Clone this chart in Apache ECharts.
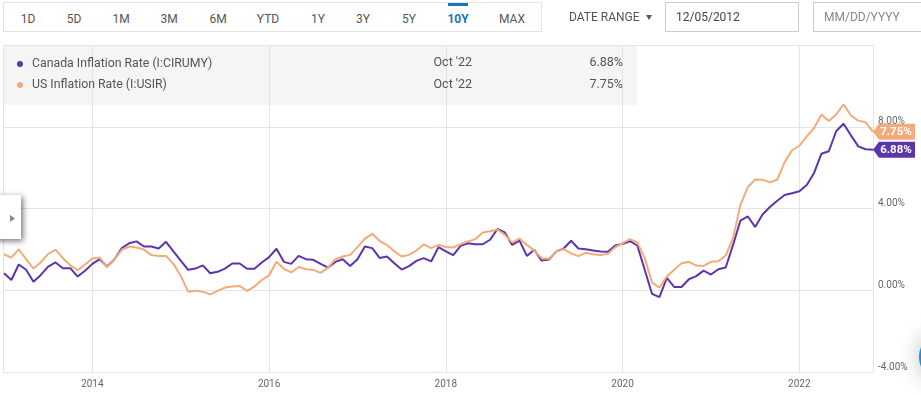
<!DOCTYPE html>
<html>
<head>
<meta charset="utf-8">
<title>Canada vs US Inflation Rate</title>
<script src="https://cdn.jsdelivr.net/npm/echarts@6/dist/echarts.min.js"></script>
<style>
html, body { margin: 0; padding: 0; background: #fff; overflow: hidden; }
body { width: 921px; height: 395px; position: relative; font-family: Roboto, sans-serif; }
#chart { position: absolute; left: 0; top: 0; width: 921px; height: 395px; }
.box { position: absolute; box-sizing: border-box; border: 1px solid #e3e3e3; background: #fff; }
.range { position: absolute; top: 18.5px; transform: translate(-50%, -50%); font-size: 12px; color: #555; white-space: nowrap; }
.range.on { color: #1a72bb; font-weight: 700; }
.bar { position: absolute; left: 448px; top: 3px; width: 20px; height: 3px; background: #1a72bb; }
.lbl { position: absolute; font-size: 12px; color: #555; white-space: nowrap; }
.input { position: absolute; top: 2px; height: 30px; box-sizing: border-box; border: 1px solid #ccc; font-size: 12px; line-height: 28px; padding-left: 10px; }
.arrow { position: absolute; left: 646px; top: 15px; width: 0; height: 0; border-left: 3.5px solid transparent; border-right: 3.5px solid transparent; border-top: 5px solid #555; }
</style>
</head>
<body>
<div id="chart"></div>
<div class="box" style="left:3px;top:2px;width:539px;height:30px"></div>
<div class="bar"></div>
<div id="ranges"></div>
<div class="lbl" style="left:569px;top:10px">DATE RANGE</div>
<div class="arrow"></div>
<div class="input" style="left:665px;width:134px;color:#444">12/05/2012</div>
<div class="input" style="left:813px;width:130px;color:#888">MM/DD/YYYY</div>
<script>
const rangeNames = ['1D', '5D', '1M', '3M', '6M', 'YTD', '1Y', '3Y', '5Y', '10Y', 'MAX']
const rangeCenters = [28, 74, 121, 169, 218, 268, 318, 363, 409, 458, 512]
const activeRange = '10Y'

// one point per month, Dec 2012 to Oct 2022
const months = []
for (let y = 2012; y <= 2022; y++) {
    for (let m = 1; m <= 12; m++) {
        if ((y === 2012 && m < 12) || (y === 2022 && m > 10)) continue
        months.push(y + '-' + String(m).padStart(2, '0'))
    }
}
const yearTicks = ['2013-12', '2015-12', '2017-12', '2019-12', '2021-12']
const yearLabels = ['2014', '2016', '2018', '2020', '2022']

const canadaName = 'Canada Inflation Rate (I:CIRUMY)'
const usName = 'US Inflation Rate (I:USIR)'
const canadaColor = '#5c35ad'
const usColor = '#f5aa7a'

const canadaValues = [
    0.83, 0.5, 1.26, 1.0, 0.42, 0.75, 1.16, 1.36, 1.08, 1.08, 0.67, 0.95,
    1.29, 1.52, 1.16, 1.52, 2.06, 2.3, 2.39, 2.14, 2.14, 2.04, 2.37, 1.9,
    1.45, 1.0, 1.06, 1.22, 0.83, 0.9, 1.06, 1.31, 1.31, 1.05, 1.05, 1.36,
    1.62, 2.03, 1.39, 1.29, 1.68, 1.52, 1.49, 1.29, 1.11, 1.39, 1.52, 1.19,
    1.52, 2.14, 2.06, 1.58, 1.65, 1.32, 1.01, 1.18, 1.44, 1.57, 1.41, 2.11,
    1.9, 1.72, 2.17, 2.3, 2.25, 2.25, 2.47, 3.0, 2.83, 2.22, 2.43, 1.68,
    1.98, 1.45, 1.5, 1.9, 2.04, 2.42, 2.04, 2.01, 1.94, 1.9, 1.88, 2.19,
    2.27, 2.4, 2.19, 1.0, -0.18, -0.34, 0.6, 0.16, 0.16, 0.54, 0.69, 0.96,
    0.77, 1.03, 1.11, 2.22, 3.41, 3.61, 3.1, 3.71, 4.07, 4.38, 4.66, 4.75,
    4.84, 5.15, 5.74, 6.68, 6.8, 7.78, 8.15, 7.58, 7.04, 6.9, 6.88
]
const usValues = [
    1.76, 1.6, 2.0, 1.52, 1.06, 1.37, 1.78, 1.98, 1.57, 1.22, 0.98, 1.26,
    1.55, 1.6, 1.14, 1.52, 1.98, 2.14, 2.09, 1.99, 1.72, 1.68, 1.68, 1.29,
    0.7, -0.07, -0.02, -0.07, -0.2, -0.03, 0.13, 0.18, 0.21, -0.03, 0.18, 0.5,
    0.73, 1.39, 1.05, 0.87, 1.14, 1.03, 1.0, 0.85, 1.11, 1.52, 1.65, 1.73,
    2.11, 2.53, 2.76, 2.42, 2.21, 1.91, 1.65, 1.73, 1.94, 2.25, 2.06, 2.22,
    2.12, 2.09, 2.25, 2.39, 2.5, 2.83, 2.89, 2.97, 2.71, 2.34, 2.53, 2.22,
    1.94, 1.57, 1.54, 1.9, 2.01, 1.8, 1.67, 1.83, 1.76, 1.73, 1.78, 2.11,
    2.3, 2.5, 2.34, 1.57, 0.38, 0.13, 0.67, 1.0, 1.32, 1.39, 1.21, 1.19,
    1.39, 1.42, 1.7, 2.55, 4.18, 5.05, 5.42, 5.41, 5.28, 5.42, 6.26, 6.85,
    7.07, 7.53, 7.94, 8.6, 8.28, 8.6, 9.1, 8.55, 8.3, 8.22, 7.75
]
const tableDate = "Oct '22"
const canadaLast = '6.88%'
const usLast = '7.75%'

const rangesEl = document.getElementById('ranges')
rangeNames.forEach((name, i) => {
    const el = document.createElement('div')
    el.className = name === activeRange ? 'range on' : 'range'
    el.style.left = rangeCenters[i] + 'px'
    el.textContent = name
    rangesEl.appendChild(el)
})

const isYearTick = (i, name) => yearTicks.includes(name)
const gridColor = '#e4e4e4'
const tagPath = 'path://M0 8 L6 0 L42 0 L42 16 L6 16 Z'

function lastTag(values, text, color) {
    return {
        symbol: tagPath,
        symbolSize: [42, 16],
        symbolOffset: [21, 0],
        silent: true,
        itemStyle: { color: color },
        label: {
            show: true,
            position: 'inside',
            offset: [2, 0],
            formatter: text,
            color: '#fff',
            fontFamily: 'Roboto',
            fontWeight: 700,
            fontSize: 11.5
        },
        data: [{ coord: [months[months.length - 1], values[values.length - 1]] }]
    }
}

function tableText(x, y, text, align) {
    return {
        type: 'text', x: x, y: y, z: 5,
        style: { text: text, fill: '#555', font: '12.5px Roboto', align: align, verticalAlign: 'middle' }
    }
}

let myChart = echarts.init(document.getElementById('chart'))
let option = {
    animation: false,
    backgroundColor: '#fff',
    grid: { left: 4, right: 48, top: 45, bottom: 23 },
    legend: {
        orient: 'vertical',
        left: 12,
        top: 53,
        icon: 'circle',
        itemWidth: 6,
        itemHeight: 6,
        itemGap: 9,
        selectedMode: false,
        data: [canadaName, usName],
        textStyle: { color: '#555', fontFamily: 'Roboto', fontSize: 12.3, padding: [0, 0, 0, 4] }
    },
    xAxis: {
        type: 'category',
        data: months,
        boundaryGap: false,
        axisTick: { show: false },
        axisLine: { lineStyle: { color: gridColor } },
        axisLabel: {
            interval: isYearTick,
            formatter: v => yearLabels[yearTicks.indexOf(v)] || '',
            color: '#666',
            fontFamily: 'Roboto',
            fontSize: 10,
            margin: 7
        },
        splitLine: { show: true, interval: isYearTick, lineStyle: { color: gridColor } }
    },
    yAxis: {
        type: 'value',
        position: 'right',
        min: -4,
        max: 12,
        interval: 4,
        axisLine: { show: true, lineStyle: { color: gridColor } },
        axisTick: { show: false },
        axisLabel: {
            showMaxLabel: false,
            formatter: v => v.toFixed(2) + '%',
            color: '#666',
            fontFamily: 'Roboto',
            fontSize: 10,
            margin: 5,
            verticalAlign: 'bottom'
        },
        splitLine: { lineStyle: { color: gridColor } }
    },
    graphic: [
        { type: 'rect', z: -1, shape: { x: 3, y: 45, width: 634, height: 60 }, style: { fill: '#f5f5f5' } },
        { type: 'line', z: 1, shape: { x1: 3.5, y1: 45, x2: 3.5, y2: 372 }, style: { stroke: gridColor } },
        { type: 'line', z: 1, shape: { x1: 3, y1: 45.5, x2: 5, y2: 45.5 }, style: { stroke: gridColor } },
        { type: 'line', z: 1, shape: { x1: 3, y1: 372.5, x2: 5, y2: 372.5 }, style: { stroke: gridColor } },
        tableText(433.5, 63, tableDate, 'left'),
        tableText(433.5, 85, tableDate, 'left'),
        tableText(623, 63, canadaLast, 'right'),
        tableText(623, 85, usLast, 'right'),
        {
            type: 'rect', z: 20,
            shape: { x: -6, y: 195, width: 27, height: 44 },
            style: { fill: '#fff', shadowBlur: 6, shadowOffsetX: 2, shadowOffsetY: 2, shadowColor: 'rgba(0,0,0,0.55)' }
        },
        { type: 'polygon', z: 21, shape: { points: [[10, 215], [15, 218.5], [10, 222]] }, style: { fill: '#888' } },
        {
            type: 'circle', z: 20,
            shape: { cx: 945, cy: 357, r: 26 },
            style: { fill: '#1a8fe0', shadowBlur: 22, shadowColor: 'rgba(0,0,0,0.25)' }
        }
    ],
    series: [
        {
            name: canadaName,
            type: 'line',
            data: canadaValues,
            showSymbol: false,
            lineStyle: { color: canadaColor, width: 2 },
            itemStyle: { color: canadaColor },
            emphasis: { disabled: true }
        },
        {
            name: usName,
            type: 'line',
            data: usValues,
            showSymbol: false,
            lineStyle: { color: usColor, width: 2 },
            itemStyle: { color: usColor },
            emphasis: { disabled: true }
        }
    ]
}
option.series[0].markPoint = lastTag(canadaValues, canadaLast, canadaColor)
option.series[1].markPoint = lastTag(usValues, usLast, usColor)
myChart.setOption(option)
</script>
</body>
</html>
